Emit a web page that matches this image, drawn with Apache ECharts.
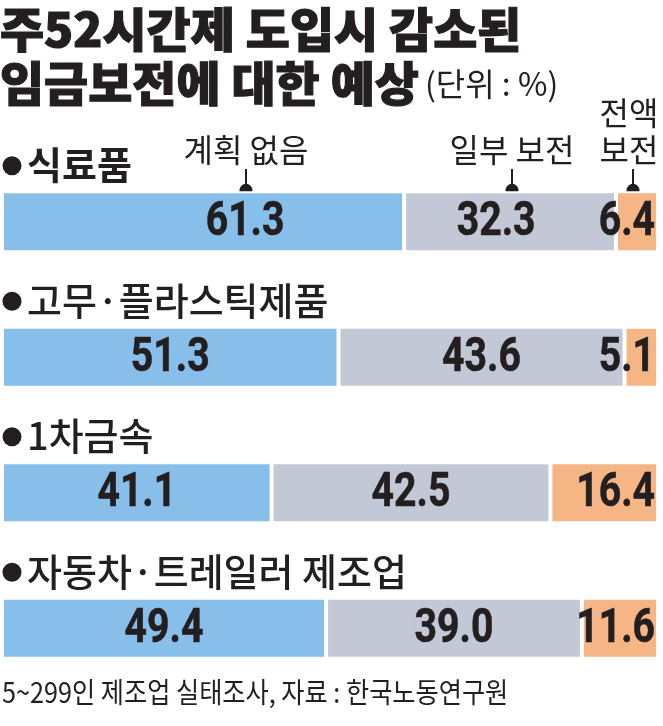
<!DOCTYPE html>
<html><head><meta charset="utf-8">
<script src="https://cdn.jsdelivr.net/npm/echarts@6.0.0/dist/echarts.min.js"></script>
<style>html,body{margin:0;padding:0;background:#fff}#c{width:663px;height:726px}</style>
</head><body><div id="c"></div>
<script>
// ---- data ----
const categories = ['식료품', '고무·플라스틱제품', '1차금속', '자동차·트레일러 제조업'];
const seriesNames = ['계획 없음', '일부 보전', '전액 보전'];
const noPlan = [61.3, 51.3, 41.1, 49.4];
const partial = [32.3, 43.6, 42.5, 39.0];
const full = [6.4, 5.1, 16.4, 11.6];
const titleLines = ['주52시간제 도입시 감소된', '임금보전에 대한 예상'];
const unitText = '(단위 : %)';
const sourceText = '5~299인 제조업 실태조사, 자료 : 한국노동연구원';

// ---- styles ----
const KR = '"Noto Sans CJK KR", "Noto Sans", sans-serif';
const NUM = 'Roboto, "Noto Sans", sans-serif';
const INK = '#231F20';
const colors = ['#88BFEA', '#C2C8D5', '#F5B585'];
const allSeries = [noPlan, partial, full];

const chart = echarts.init(document.getElementById('c'), null, {renderer: 'canvas'});

function series(name, values, idx) {
  return {
    name, type: 'bar', stack: 'all', barWidth: 61,
    itemStyle: {color: colors[idx], borderColor: '#fff', borderWidth: 2},
    label: {show: false},
    data: values.slice()
  };
}

chart.setOption({
  animation: false,
  backgroundColor: '#fff',
  grid: {left: 2, right: 5, top: 154, bottom: 30, containLabel: false},
  xAxis: {type: 'value', min: 0, max: 100, show: false},
  yAxis: {type: 'category', data: categories, inverse: true, show: false},
  series: allSeries.map((v, i) => series(seriesNames[i], v, i))
});

// ---- text & annotations ----
const g = [];
titleLines.forEach((t, k) => {
  g.push({type: 'text', x: 0, y: 29 + k * 54, scaleX: 1.02, style: {text: t, fontFamily: KR, fontWeight: 900, fontSize: 47, fill: INK, stroke: INK, lineWidth: 1.2, textVerticalAlign: 'middle'}});
});
g.push({type: 'text', x: 425, y: 84, style: {text: unitText, fontFamily: KR, fontWeight: 400, fontSize: 32, fill: INK, textVerticalAlign: 'middle'}});

// value labels placed through the chart's own scales
const labelShift = [[42, 0, 0, 0], [-14, 0, 0, 0]];
categories.forEach((c, i) => {
  const yc = chart.convertToPixel({yAxisIndex: 0}, c);
  let cum = 0;
  allSeries.forEach((vals, s) => {
    const x0 = chart.convertToPixel({xAxisIndex: 0}, cum);
    cum += vals[i];
    const x1 = chart.convertToPixel({xAxisIndex: 0}, cum);
    const txt = vals[i].toFixed(1);
    const base = {fontFamily: NUM, fontWeight: 'bold', fontSize: 49, fill: INK, stroke: INK, lineWidth: 0.6, textVerticalAlign: 'middle', text: txt};
    if (s === 2) {
      g.push({type: 'text', x: x1 - 3, y: yc + 1, scaleX: 0.8, z: 10, style: Object.assign(base, {textAlign: 'right'})});
    } else {
      const sh = (labelShift[s] || [])[i] || 0;
      g.push({type: 'text', x: (x0 + x1) / 2 + sh, y: yc + 1, scaleX: 0.8, z: 10, style: Object.assign(base, {textAlign: 'center'})});
    }
  });
  const ty = yc - 57;
  g.push({type: 'circle', shape: {cx: 12, cy: ty + 1, r: 9.5}, style: {fill: INK}});
  g.push({type: 'text', x: 27, y: ty, scaleX: 1.0, style: {text: c, fontFamily: KR, fontWeight: i === 0 ? 'bold' : 500, fontSize: 38, fill: INK, textVerticalAlign: 'middle'}});
});

// legend call-outs above first bar
const firstTop = chart.convertToPixel({yAxisIndex: 0}, categories[0]) - 30.5;
const callouts = [
  {lines: [seriesNames[0]], x: 246},
  {lines: [seriesNames[1]], x: 512},
  {lines: seriesNames[2].split(' '), x: 629, dot: 633}
];
callouts.forEach(co => {
  const n = co.lines.length;
  co.lines.forEach((t, k) => {
    g.push({type: 'text', x: co.x, y: 150 - (n - 1 - k) * 37, style: {text: t, fontFamily: KR, fontWeight: 400, fontSize: 32, fill: INK, textAlign: 'center', textVerticalAlign: 'middle'}});
  });
  const dx = co.dot || co.x;
  g.push({type: 'line', shape: {x1: dx, y1: 169, x2: dx, y2: firstTop}, style: {stroke: INK, lineWidth: 2}});
  g.push({type: 'circle', shape: {cx: dx, cy: firstTop - 1, r: 6.5}, style: {fill: INK}});
});

g.push({type: 'text', x: 2, y: 692, scaleX: 0.9, style: {text: sourceText, fontFamily: KR, fontWeight: 400, fontSize: 28, fill: INK, textVerticalAlign: 'middle'}});

chart.setOption({graphic: {elements: g}});
</script>
</body></html>
